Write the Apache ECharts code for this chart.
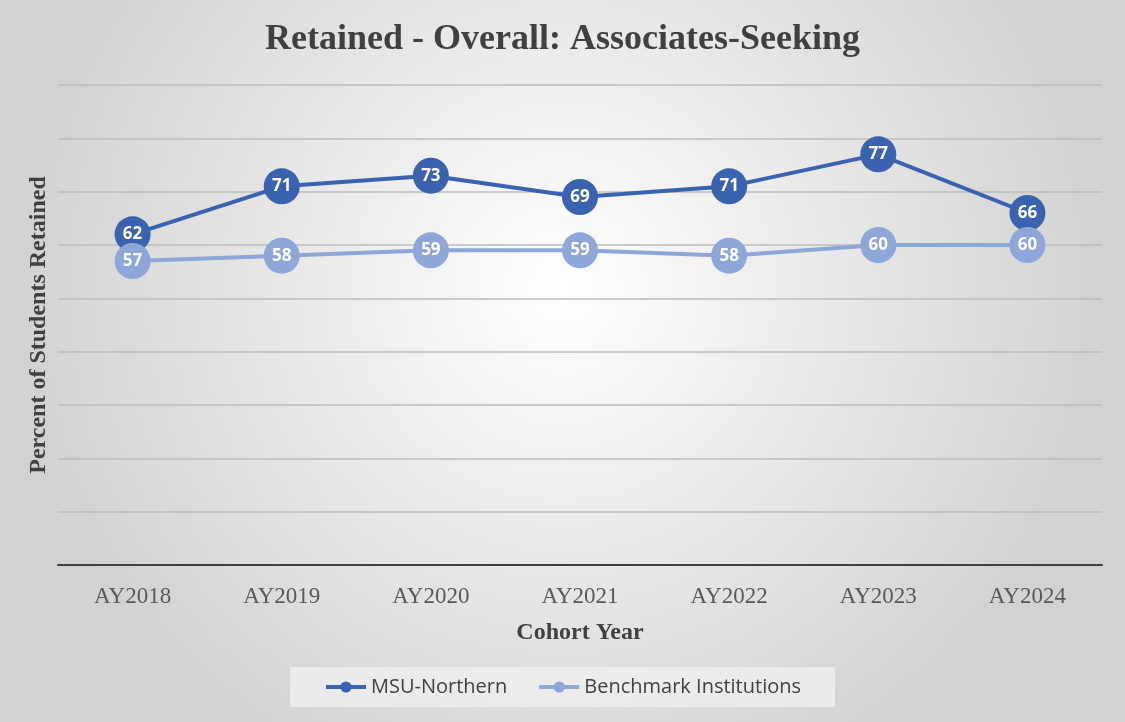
<!DOCTYPE html>
<html>
<head>
<meta charset="utf-8">
<script src="https://cdn.jsdelivr.net/npm/echarts@6/dist/echarts.min.js"></script>
<style>
    html,body{margin:0;padding:0;}
    #chart{width:1125px;height:722px;}
</style>
</head>
<body>
<div id="chart"></div>
<script>
// cohort years and retention values (percent)
var years = ['AY2018','AY2019','AY2020','AY2021','AY2022','AY2023','AY2024'];
var msuNorthern = [62, 71, 73, 69, 71, 77, 66];
var benchmark = [57, 58, 59, 59, 58, 60, 60];

var serif = '"Liberation Serif", "DejaVu Serif", serif';
var sans = '"Open Sans", "Noto Sans", sans-serif';

var chart = echarts.init(document.getElementById('chart'));
var option = {
    backgroundColor: {
        type: 'radial', x: 0.5, y: 0.4, r: 0.75,
        colorStops: [
            {offset: 0, color: '#ffffff'},
            {offset: 1, color: '#d2d2d2'}
        ]
    },
    title: {
        text: 'Retained - Overall: Associates-Seeking',
        left: 'center',
        top: 17,
        textStyle: {fontFamily: serif, fontSize: 36, fontWeight: 'bold', color: '#404040'}
    },
    legend: {
        bottom: 15,
        left: 'center',
        padding: [10, 34],
        backgroundColor: 'rgba(240,240,240,0.75)',
        itemWidth: 40,
        itemHeight: 14,
        itemGap: 30,
        lineStyle: {width: 4},
        textStyle: {fontFamily: sans, fontSize: 20, color: '#404040'},
        data: ['MSU-Northern', 'Benchmark Institutions']
    },
    grid: {left: 58, right: 23, top: 85, bottom: 157},
    xAxis: {
        type: 'category',
        data: years,
        name: 'Cohort Year',
        nameLocation: 'middle',
        nameGap: 56,
        nameTextStyle: {fontFamily: serif, fontSize: 24, fontWeight: 'bold', color: '#404040'},
        axisLine: {lineStyle: {color: '#404040', width: 2}},
        axisTick: {show: false},
        axisLabel: {fontFamily: serif, fontSize: 23, color: '#595959', margin: 20}
    },
    yAxis: {
        type: 'value',
        min: 0,
        max: 90,
        interval: 10,
        name: 'Percent of Students Retained',
        nameLocation: 'middle',
        nameGap: 7,
        nameTextStyle: {fontFamily: serif, fontSize: 24, fontWeight: 'bold', color: '#404040'},
        axisLabel: {show: false},
        axisLine: {show: false},
        axisTick: {show: false},
        splitLine: {lineStyle: {color: '#bcbcbc', width: 1.5}}
    },
    series: [
        {
            name: 'MSU-Northern',
            type: 'line',
            data: msuNorthern,
            color: '#3a62ae',
            symbol: 'circle',
            symbolSize: 36,
            lineStyle: {width: 4},
            z: 3,
            label: {
                show: true, position: 'inside',
                fontFamily: sans, fontSize: 17, fontWeight: 'bold', color: '#ffffff'
            }
        },
        {
            name: 'Benchmark Institutions',
            type: 'line',
            data: benchmark,
            color: '#8fa6d9',
            symbol: 'circle',
            symbolSize: 36,
            lineStyle: {width: 4},
            z: 4,
            label: {
                show: true, position: 'inside',
                fontFamily: sans, fontSize: 17, fontWeight: 'bold', color: '#ffffff'
            }
        }
    ]
};
chart.setOption(option);
</script>
</body>
</html>
